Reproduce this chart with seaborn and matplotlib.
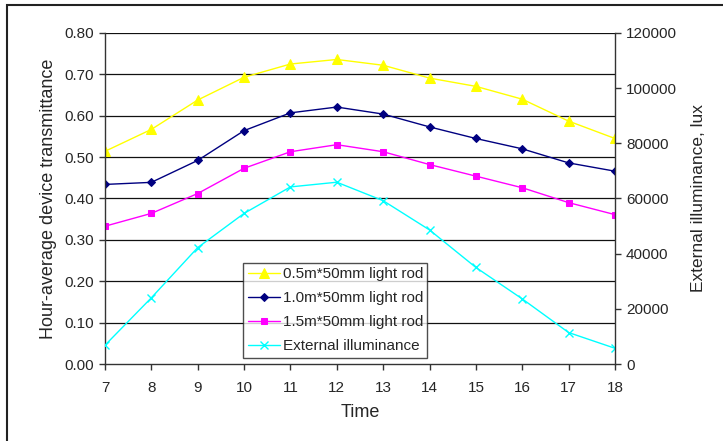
import numpy as np
import pandas as pd
import seaborn as sns
import matplotlib.pyplot as plt
from matplotlib.patches import Rectangle

# data
hours = [7, 8, 9, 10, 11, 12, 13, 14, 15, 16, 17, 18]
rod_05 = [0.514, 0.567, 0.638, 0.693, 0.725, 0.736, 0.722, 0.691, 0.671, 0.640, 0.587, 0.545]
rod_10 = [0.434, 0.439, 0.492, 0.564, 0.607, 0.621, 0.604, 0.573, 0.545, 0.520, 0.486, 0.466]
rod_15 = [0.333, 0.364, 0.412, 0.473, 0.513, 0.530, 0.513, 0.482, 0.454, 0.426, 0.390, 0.361]
ext_lux = [6800, 24000, 42200, 54600, 64200, 65900, 59200, 48600, 35000, 23600, 11400, 5700]

sns.set_style("white")
plt.rcParams['font.family'] = ['Liberation Sans', 'DejaVu Sans']

df = pd.DataFrame({'hour': hours, 'r05': rod_05, 'r10': rod_10, 'r15': rod_15, 'lux': ext_lux})

fig = plt.figure(figsize=(7.23, 4.41), dpi=100)
ax = fig.add_axes([0.1452, 0.1746, 0.7054, 0.7506])
ax2 = ax.twinx()

sns.lineplot(data=df, x='hour', y='r05', ax=ax, color='#FFFF00', marker='^', markersize=6.5,
             markeredgecolor='#FFFF00', lw=1, label='0.5m*50mm light rod', legend=False)
sns.lineplot(data=df, x='hour', y='r10', ax=ax, color='#000080', marker='D', markersize=4.5,
             markeredgecolor='#000080', lw=1, label='1.0m*50mm light rod', legend=False)
sns.lineplot(data=df, x='hour', y='r15', ax=ax, color='#FF00FF', marker='s', markersize=5,
             markeredgecolor='#FF00FF', lw=1, label='1.5m*50mm light rod', legend=False)
sns.lineplot(data=df, x='hour', y='lux', ax=ax2, color='#00FFFF', marker='x', markersize=6,
             markeredgecolor='#00FFFF', mew=1, lw=1, label='External illuminance', legend=False)

ax.set_xlim(7, 18)
ax.set_ylim(0, 0.8)
ax2.set_ylim(0, 120000)
ax.set_xticks(hours)
ax.set_yticks(np.arange(0, 0.81, 0.1))
ax.set_yticklabels([f'{v:.2f}' for v in np.arange(0, 0.81, 0.1)])
ax2.set_yticks(range(0, 120001, 20000))

for y in np.arange(0.1, 0.81, 0.1):
    ax.axhline(y, color='#111111', lw=0.9, zorder=0)

for a in (ax, ax2):
    for s in a.spines.values():
        s.set_visible(False)
ax.spines['left'].set_visible(True)
ax.spines['bottom'].set_visible(True)
ax2.spines['right'].set_visible(True)
for s in (ax.spines['left'], ax.spines['bottom'], ax2.spines['right']):
    s.set_color('#333333')
    s.set_linewidth(1)

ax.tick_params(axis='both', direction='out', length=4, width=1, color='#333333',
               labelsize=11, bottom=True, left=True, pad=4)
ax2.tick_params(axis='y', direction='out', length=4, width=1, color='#333333',
                labelsize=11, right=True, pad=4)
ax.tick_params(axis='x', pad=8)

ax.set_xlabel('Time', fontsize=13, labelpad=7)
ax.set_ylabel('Hour-average device transmittance', fontsize=13, labelpad=5)
ax2.set_ylabel('External illuminance, lux', fontsize=12.5, labelpad=10)

h1, l1 = ax.get_legend_handles_labels()
h2, l2 = ax2.get_legend_handles_labels()
leg = ax2.legend(h1 + h2, l1 + l2, loc='lower left',
                 bbox_to_anchor=(0.2706, 0.018, 0.3608, 0.296), mode='expand',
                 fontsize=11, frameon=True, fancybox=False, handlelength=2.1,
                 borderpad=0.3, labelspacing=0.66, handletextpad=0.2, borderaxespad=0)
leg.get_frame().set_edgecolor('#222222')
leg.get_frame().set_linewidth(1)

# outer chart border
fig.patches.append(Rectangle((7 / 723, -0.05), 1.0, 1 - 5 / 441 + 0.05, transform=fig.transFigure,
                             fill=False, edgecolor='#222222', lw=1.5))

fig.savefig('out.png', dpi=100)
